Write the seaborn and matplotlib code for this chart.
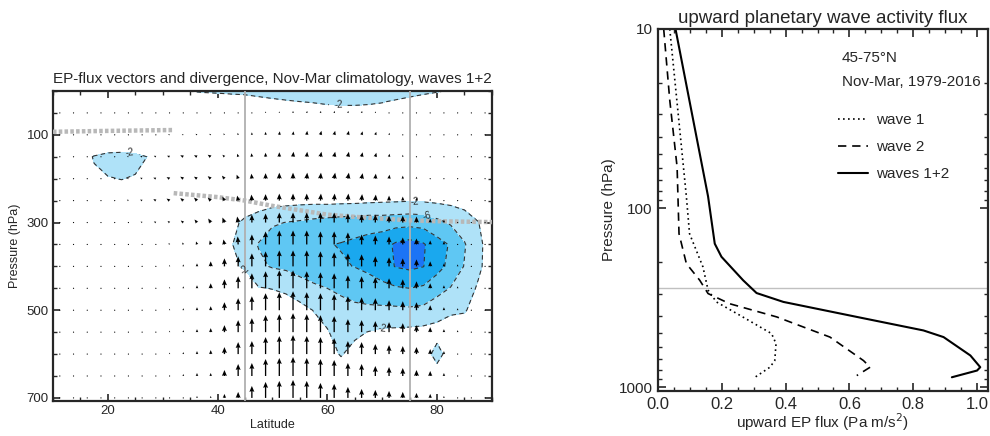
import numpy as np
import pandas as pd
import matplotlib
matplotlib.use("Agg")
import matplotlib.pyplot as plt
import seaborn as sns
from matplotlib.ticker import MultipleLocator, FixedLocator, LogLocator, NullFormatter

# ---------------- left panel: EP-flux divergence (m/s/day) on lat x pressure grid
div_lat = np.arange(10, 90.1, 2.5)
div_p = [0, 25, 50, 100, 150, 200, 250, 300, 350, 400, 450, 500, 550, 600, 650, 700]
div_rows = [
    [0, 0, 0, 0, 0, 0, 0, 0, 0, 0, -2.2, -3, -3.5, -4.5, -5, -5, -5, -5, -5, -5, -5, -5, -5, -5, -5, -5, -5, -5, -3, -1, 0, 0, 0],
    [0, 0, 0, 0, 0, 0, 0, 0, 0, 0, 5, 4.1, 4, 4.4, 3.8, 0.8, -0.6, -1.4, -1.9, -2.2, -2.5, -2.5, -2.5, -2.5, -2.2, -1.25, 0.4, 4.4, 5.3, 3, 0, 0, 0],
    [1] * 19 + [0.3, -0.4, -0.9, -0.9, -0.4, 0.3] + [1] * 8,
    [0, 0, 0, 5, 5, 5, 5] + [0] * 26,
    [0, 0, 0, -2.3, -3.5, -3.8, -3.2, -1.8] + [0] * 25,
    [0, 0, 0, -1.3, -1.8, -2.1, -1.7, -1] + [0] * 25,
    [0] * 16 + [-0.4, -0.7, -0.9, -1, -0.9, -1, -1.1, -1.3, -1.5, -1.6, -1.8, -1.6, -1.3, -1, -0.5, 0, 0],
    [0] * 13 + [-1.2, -2.6, -4, -5.5, -6.1, -6.5, -7, -7.4, -7.8, -8, -8.3, -8.2, -8.5, -8.7, -8.4, -7, -5.5, -4, -2.1, 0],
    [0] * 12 + [-0.3, -1.7, -4.5, -6.2, -8, -8.8, -9.2, -9.6, -9.8, -10.2, -10.8, -11.5, -12.5, -14.6, -15.5, -14.4, -11.6, -9.6, -6.3, -3, 0],
    [0] * 12 + [-0.2, -1.5, -2.3, -5.3, -6.3, -6.8, -7.8, -8.6, -9.2, -9.6, -10.1, -11, -12.5, -14.2, -14.8, -14.1, -11.5, -8.8, -5.8, -2.8, 0],
    [0] * 13 + [-0.5, -0.5, -1.8, -2.1, -2.6, -4, -5.2, -6, -6.8, -7.4, -8, -8.8, -9.6, -10, -9.4, -7.4, -5.8, -4, -1.5, 0],
    [0] * 17 + [-0.3, -0.8, -2.1, -3, -4.5, -5.2, -5.3, -5.2, -5.2, -5.3, -5, -3.8, -2.6, -2.3, -0.5, 0],
    [0] * 19 + [-0.5, -1.8, -3.2, -2.6, -1.9, -1.3, -1.2, -1, -0.8, -0.5, 0, 0, 0, 0],
    [0] * 20 + [-1, -2.2, -1, -0.5, 0, 0, 0, 0, -3.5, 0, 0, 0, 0],
    [0] * 21 + [-0.5] + [0] * 11,
    [0] * 33,
]

# EP-flux vectors (arbitrary units), upward and meridional components
arrow_lat = np.arange(11.25, 89, 2.5)
arrow_p = [50, 100, 150, 200, 250, 300, 350, 400, 450, 500, 550, 600, 650, 700]
fz_rows = [
    [0, 0, 0, 0, 0, 0, 0, 0, 0, 0, 0, 0.5, 0.5, 1, 1, 1.5, 1.5, 2, 2, 2, 2, 2, 2, 1.5, 1, 0.5, 0, 0, 0, 0, 0, 0],
    [0, 0, 0, 0, 0, 0, 0.5, 0.5, 0.5, 0.5, 1, 1, 1.5, 2, 2.5, 3, 3.5, 3.5, 4, 4, 4, 4, 3.5, 3, 2, 1, 0.5, 0, 0, 0, 0, 0],
    [0, 0, 0, 0, 0, 0.5, 0.5, 1, 1, 1.5, 1.5, 2, 2, 3, 3.5, 4, 4.5, 5, 5, 5, 5, 5, 4.5, 4, 3, 2, 1, 0.5, 0, 0, 0, 0],
    [0, 0, 0, 0, 0.5, 0.5, 1, 1, 1.5, 2, 2, 2.5, 3, 4, 5, 5.5, 6, 6, 6, 6, 6, 6, 5.5, 5, 4, 3, 2, 1, 0.5, 0, 0, 0],
    [0, 0, 0, 0, 0.5, 1, 1, 1.5, 2, 2.5, 3, 3, 4, 5, 6, 6.5, 7, 7, 7, 7, 7, 7, 6.5, 6, 5, 4, 3, 2, 1, 0.5, 0, 0],
    [0, 0, 0, 0, 0.5, 0.5, 1, 1, 1.5, 2, 3, 4, 5, 6, 8, 9, 10, 10, 10, 10, 10, 9, 8, 8, 7, 7, 6, 4, 3, 1, 0.5, 0],
    [0, 0, 0, 0, 0.5, 0.5, 0.5, 1, 1.5, 2, 3, 4, 5, 8, 10, 13, 14, 14, 14, 13, 13, 12, 10, 9, 8, 7, 6, 4, 3, 1, 0.5, 0],
    [0, 0, 0, 0, 0.5, 0.5, 1, 1, 1.5, 2, 3, 5, 8, 10, 13, 15, 16, 16, 16, 15, 14, 13, 12, 10, 9, 8, 7, 5, 3, 2, 0.5, 0],
    [0, 0, 0, 0, 0.5, 0.5, 1, 1, 1.5, 2, 3, 5, 9, 12, 15, 17, 18, 18, 17, 16, 15, 13, 12, 11, 10, 9, 7, 5, 3, 2, 0.5, 0],
    [0, 0, 0, 0, 0, 0.5, 0.5, 1, 1.5, 2, 3, 4, 8, 12, 14, 17, 18, 19, 18, 17, 16, 14, 13, 12, 10, 9, 8, 5, 3, 2, 0.5, 0],
    [0, 0, 0, 0, 0, 0.5, 0.5, 1, 1.5, 2, 3, 4, 7, 12, 14, 17, 18, 19, 18, 17, 16, 13, 12, 11, 10, 9, 7, 5, 3, 2, 0.5, 0],
    [0, 0, 0, 0, 0, 0, 0.5, 1, 1.5, 2, 3, 4, 7, 12, 13, 17, 18, 19, 18, 17, 16, 13, 12, 10, 9, 8, 7, 5, 3, 1, 0.5, 0],
    [0, 0, 0, 0, 0, 0, 0.5, 1, 1, 2, 3, 3, 6, 12, 13, 17, 18, 19, 18, 17, 16, 13, 12, 10, 9, 8, 6, 5, 3, 1, 0.5, 0],
    [0, 0, 0, 0, 0, 0, 0.5, 0.5, 1, 1, 2, 2, 4, 6, 12, 16, 17, 18, 17, 15, 14, 11, 9, 8, 7, 6, 5, 4, 2, 1, 0.5, 0],
]
fy_rows = [
    [0] * 18 + [0.5] * 6 + [0] * 8,
    [0, 0, 0, 0, 0, -0.5, -1, -1, -1.5, -1.5, -1.5, -1.5, -1, -0.5, 0, 0, 0.5, 0.5, 0.5, 1, 1, 1, 1, 1, 0.5, 0, 0, 0, 0, 0, 0, 0],
    [-1, -1, -1, -1, -1, -1.5, -2, -2, -2.5, -3, -3, -3, -2, -1, -0.5, 0, 0, 0.5, 0.5, 1, 1, 1, 1, 1, 0.5, 0, 0, 0, 0, 0, 0, 0],
    [-1, -1, -1, -1, -1, -1.5, -2, -2.5, -3, -3, -3, -3, -2.5, -1.5, -0.5, 0, 0, 0, 0.5, 0.5, 1, 1, 1, 0.5, 0.5, 0, 0, 0, 0, 0, 0, 0],
    [0, 0, 0, -0.5, -1, -1.5, -2, -2.5, -3, -3, -3, -3, -2, -1, -0.5, 0, 0, 0, 0, 0.5, 0.5, 0.5, 0.5, 0.5, 0, 0, 0, 0, 0, 0, 0, 0],
    [0, 0, 0, 0, -0.5, -1, -1.5, -2, -2, -2.5, -2.5, -2.5, -2, -1] + [0] * 18,
    [0, 0, 0, 0, 0, 0, -0.5, -0.5, -1, -1, -1, -1, -1, -0.5] + [0] * 18,
] + [[0] * 32 for _ in range(7)]

# tropopause
trop1_lat = [10, 20, 32]
trop1_p = [93, 91, 89]
trop2_lat = [32, 40, 45, 50, 55, 60, 65, 70, 75, 80, 85, 90]
trop2_p = [233, 242, 250, 262, 272, 282, 287, 291, 295, 297, 298, 299]
band_lat = [45, 75]

# ---------------- right panel: upward EP flux, 45-75N
p_w1 = [10, 86, 139, 213, 287, 334, 397, 502, 571, 710, 773, 880]
f_w1 = [0.037, 0.089, 0.099, 0.141, 0.157, 0.183, 0.257, 0.356, 0.370, 0.366, 0.351, 0.304]
p_w2 = [10, 25, 59, 139, 204, 253, 300, 342, 405, 525, 710, 773, 861]
f_w2 = [0.018, 0.037, 0.060, 0.066, 0.089, 0.131, 0.157, 0.225, 0.372, 0.539, 0.644, 0.665, 0.623]
p_w12 = [10, 86, 158, 187, 253, 298, 334, 405, 482, 525, 665, 773, 807, 880]
f_w12 = [0.055, 0.157, 0.178, 0.199, 0.267, 0.309, 0.393, 0.623, 0.832, 0.895, 0.979, 1.01, 1.0, 0.921]
p_line = 280

sns.set_style("ticks")
plt.rcParams["font.family"] = ["Liberation Sans", "DejaVu Sans"]

fig = plt.figure(figsize=(9.9, 4.36), dpi=100)
ax1 = fig.add_axes([0.0535, 0.0803, 0.4434, 0.711])
ax2 = fig.add_axes([0.6646, 0.1032, 0.3333, 0.8303])

# --- left
div = np.array(div_rows)
blues = ["#1c74f5", "#1aa8ee", "#5fc7f3", "#afe2f8"]
ax1.contourf(div_lat, div_p, div, levels=[-40, -14, -10, -6, -2], colors=blues)
cs = ax1.contour(div_lat, div_p, div, levels=[-14, -10, -6, -2], colors="#333333",
                 linewidths=0.8, linestyles=[(0, (4, 3))])
ax1.clabel(cs, fmt=lambda v: f"{v:.0f}", fontsize=7, inline=True,
           manual=[(62, 33), (24, 143), (76, 256), (78, 290), (45, 405), (70, 536)])

for lat in band_lat:
    ax1.axvline(lat, color="#b0b0b0", lw=1.3, zorder=3)
ax1.plot(trop1_lat, trop1_p, color="#b8b8b8", lw=3.2, ls=(0, (0.8, 0.5)), zorder=3)
ax1.plot(trop2_lat, trop2_p, color="#b8b8b8", lw=3.2, ls=(0, (0.8, 0.5)), zorder=3)

LA, PA = np.meshgrid(arrow_lat, arrow_p)
ax1.quiver(LA, PA, np.array(fy_rows), np.array(fz_rows), pivot="tail", angles="uv",
           scale_units="inches", scale=100, width=0.003, headwidth=3.8,
           headlength=4.5, headaxislength=4, color="black", zorder=4)

ax1.set_xlim(10, 90)
ax1.set_ylim(707, 0)
ax1.set_xticks([20, 40, 60, 80])
ax1.xaxis.set_minor_locator(MultipleLocator(5))
ax1.set_yticks([100, 300, 500, 700])
ax1.yaxis.set_minor_locator(MultipleLocator(50))
ax1.tick_params(which="both", direction="in", top=True, right=True, labelsize=9.5, pad=3)
ax1.tick_params(which="major", length=5, width=1.2)
ax1.tick_params(which="minor", length=3, width=1)
for s in ax1.spines.values():
    s.set_linewidth(1.6)
ax1.set_xlabel("Latitude", fontsize=9, labelpad=1)
ax1.set_ylabel("Pressure (hPa)", fontsize=9, labelpad=4)
ax1.set_title("EP-flux vectors and divergence, Nov-Mar climatology, waves 1+2", fontsize=11, pad=6)

# --- right
ax2.axhline(p_line, color="#c0c0c0", lw=1)
sns.lineplot(x=f_w1, y=p_w1, sort=False, estimator=None, ax=ax2, color="black", lw=1.2,
             linestyle=(0, (1, 2)), label="wave 1")
sns.lineplot(x=f_w2, y=p_w2, sort=False, estimator=None, ax=ax2, color="black", lw=1.2,
             linestyle=(0, (5, 3.5)), label="wave 2")
sns.lineplot(x=f_w12, y=p_w12, sort=False, estimator=None, ax=ax2, color="black", lw=1.5,
             linestyle="-", label="waves 1+2")
ax2.set_yscale("log")
ax2.set_ylim(1050, 10)
ax2.set_xlim(0, 1.034)
ax2.yaxis.set_major_locator(FixedLocator([10, 100, 1000]))
ax2.yaxis.set_major_formatter(matplotlib.ticker.FixedFormatter(["10", "100", "1000"]))
ax2.yaxis.set_minor_locator(LogLocator(base=10, subs=np.arange(2, 10)))
ax2.yaxis.set_minor_formatter(NullFormatter())
ax2.set_xticks([0, 0.2, 0.4, 0.6, 0.8, 1.0])
ax2.set_xticklabels(["0.0", "0.2", "0.4", "0.6", "0.8", "1.0"])
ax2.xaxis.set_minor_locator(MultipleLocator(0.05))
ax2.tick_params(which="both", direction="in", top=True, right=True, labelsize=11, pad=4)
ax2.tick_params(axis="x", labelsize=12)
ax2.tick_params(which="major", length=6, width=1.2)
ax2.tick_params(which="minor", length=3, width=1)
for s in ax2.spines.values():
    s.set_linewidth(1.6)
ax2.set_xlabel("upward EP flux (Pa m/s$^2$)", fontsize=11, labelpad=0)
ax2.set_ylabel("Pressure (hPa)", fontsize=11, labelpad=2)
ax2.set_title("upward planetary wave activity flux", fontsize=13.5, pad=4)
ax2.text(0.558, 0.92, "45-75\u00b0N", transform=ax2.transAxes, fontsize=11, va="center")
ax2.text(0.558, 0.853, "Nov-Mar, 1979-2016", transform=ax2.transAxes, fontsize=11, va="center")
ax2.legend(frameon=False, loc="upper left", bbox_to_anchor=(0.545, 0.768), fontsize=11,
           handlelength=2.0, handletextpad=0.5, labelspacing=0.85, borderpad=0, borderaxespad=0)

fig.savefig("out.png", dpi=100, facecolor="white")
